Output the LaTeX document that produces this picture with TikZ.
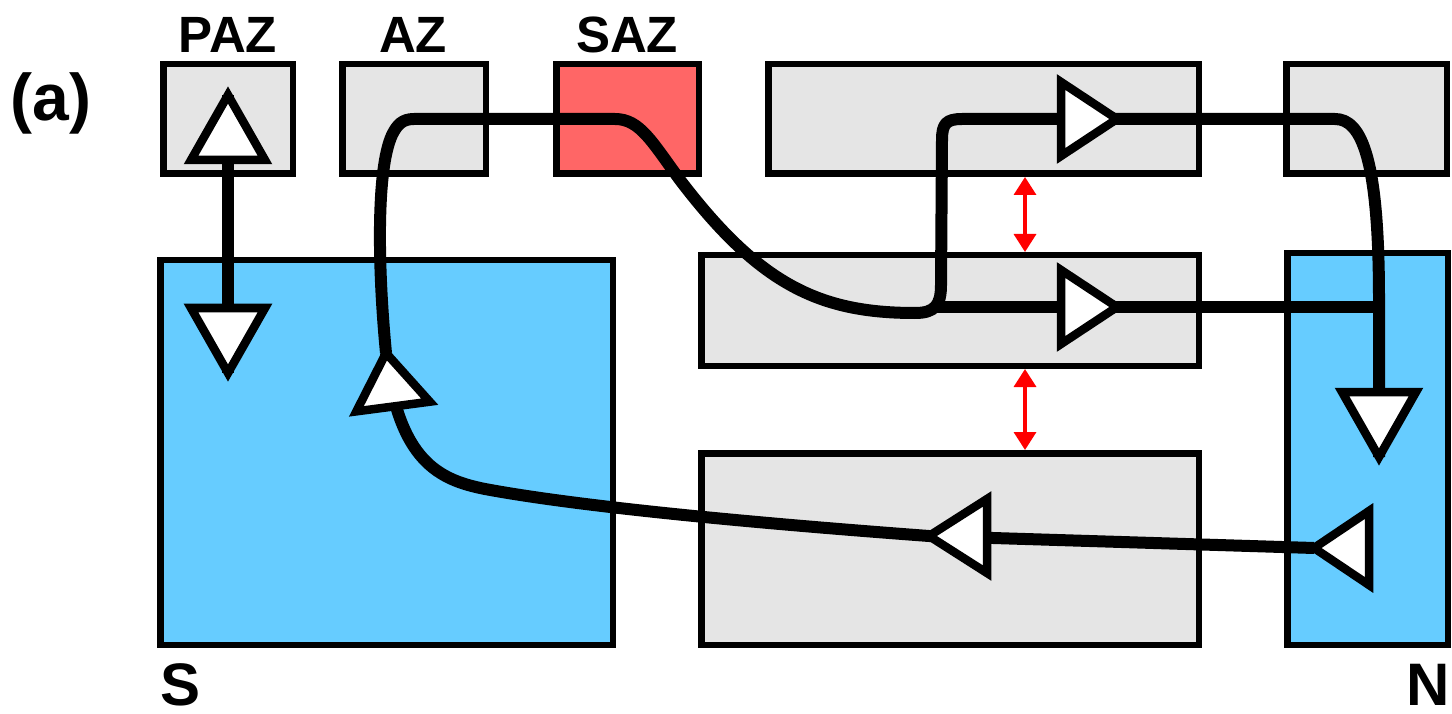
\documentclass[tikz,border=0pt]{standalone}
\usepackage{fontspec}
\setmainfont{Liberation Sans}
\usetikzlibrary{arrows.meta}
\definecolor{boxgray}{HTML}{E5E5E5}
\definecolor{azred}{HTML}{FF6666}
\definecolor{zoneblue}{HTML}{66CCFF}
\newcommand\arrowtri[3]{%
  \begin{scope}[shift={(#1)}, rotate=#2]
    \draw[tri] (0,0) -- (-#3,37) -- (-#3,-37) -- cycle;
  \end{scope}}
\tikzset{
  box/.style={draw=black, line width=6.5pt, inner sep=0pt, outer sep=0pt},
  flow/.style={draw=black, line width=12pt, line join=round},
  tri/.style={draw=black, fill=white, line width=8.5pt, line join=miter},
  redarr/.style={draw=red, line width=3.5pt,
    {Triangle[length=18pt,width=22pt]}-{Triangle[length=18pt,width=22pt]}},
  lab/.style={font=\fontsize{51}{51}\selectfont\bfseries, inner sep=0pt, anchor=base},
  biglab/.style={font=\fontsize{60}{60}\selectfont\bfseries, inner sep=0pt, anchor=base}
}
\begin{document}
\begin{tikzpicture}[x=1pt,y=-1pt]
\useasboundingbox (0,0) rectangle (1452,714);
% boxes
\node[box, fill=boxgray, minimum width=129.5pt, minimum height=109.5pt] (paz) at (228,119) {};
\node[box, fill=boxgray, minimum width=143.5pt, minimum height=109.5pt] (az) at (414,119) {};
\node[box, fill=azred, minimum width=142.5pt, minimum height=109.5pt] (saz) at (627.5,119) {};
\node[box, fill=boxgray, minimum width=430.5pt, minimum height=109.5pt] (toplong) at (983.5,119) {};
\node[box, fill=boxgray, minimum width=160.5pt, minimum height=109.5pt] (topright) at (1366.5,119) {};
\node[box, fill=zoneblue, minimum width=452.5pt, minimum height=384.5pt] (S) at (386.5,452.5) {};
\node[box, fill=boxgray, minimum width=497.5pt, minimum height=110.5pt] (mid) at (950,310.5) {};
\node[box, fill=boxgray, minimum width=497.5pt, minimum height=191.5pt] (bottom) at (950,549) {};
\node[box, fill=zoneblue, minimum width=160.5pt, minimum height=391.5pt] (N) at (1367.5,449) {};
% arrow apex coordinates
\coordinate (tpazup) at (228,95);
\coordinate (tpazdn) at (228,373);
\coordinate (ts) at (386,353);
\coordinate (ttop) at (1117,119);
\coordinate (tmid) at (1117,307);
\coordinate (tndn) at (1379,457);
\coordinate (tnl) at (1314,548);
\coordinate (tbot) at (929,536);
\coordinate (k1) at (485,489);
\coordinate (jn) at (932,307);
\coordinate (nmid) at (1379,307);
% flows
\draw[flow] (tpazup) -- (tpazdn);
\draw[flow] (tnl) -- (tbot) .. controls (700,519) and (560,503) .. (k1)
  .. controls (440,480) and (398,462) .. (ts);
\draw[flow] (ts) .. controls (378,270) and (376,170) .. (392,135)
  .. controls (397,125) and (402,119) .. (414,119) -- (615,119)
  .. controls (640,119) and (652,142) .. (680,180)
  .. controls (760,285) and (820,313) .. (915,313)
  .. controls (935,313) and (941,305) .. (941,285) -- (942,140)
  .. controls (942,124) and (946,119) .. (962,119) -- (ttop) -- (1335,119)
  .. controls (1362,119) and (1379,160) .. (1379,300) -- (tndn);
\draw[flow] (jn) -- (tmid) -- (nmid);
% triangles
\arrowtri{tpazup}{90}{65}
\arrowtri{tpazdn}{-90}{65}
\arrowtri{ts}{97.5}{54}
\arrowtri{ttop}{0}{56}
\arrowtri{tmid}{0}{56}
\arrowtri{tndn}{-90}{65}
\arrowtri{tnl}{180}{55}
\arrowtri{tbot}{180}{58}
% red double arrows
\coordinate (rx) at (1025,0);
\draw[redarr, shorten <=3.25pt, shorten >=3.25pt] (toplong.south -| rx) -- (mid.north -| rx);
\draw[redarr, shorten <=3.25pt, shorten >=3.25pt] (mid.south -| rx) -- (bottom.north -| rx);
% labels
\node[lab] (lpaz) at (228,53) {PAZ};
\node[lab] (laz) at (413,53) {AZ};
\node[lab] (lsaz) at (627,53) {SAZ};
\node[font=\fontsize{66}{66}\selectfont\bfseries, inner sep=0pt, anchor=base] (la) at (51,121) {(a)};
\node[biglab] (lS) at (181,705) {S};
\node[biglab] (lN) at (1428,705) {N};
\end{tikzpicture}
\end{document}
